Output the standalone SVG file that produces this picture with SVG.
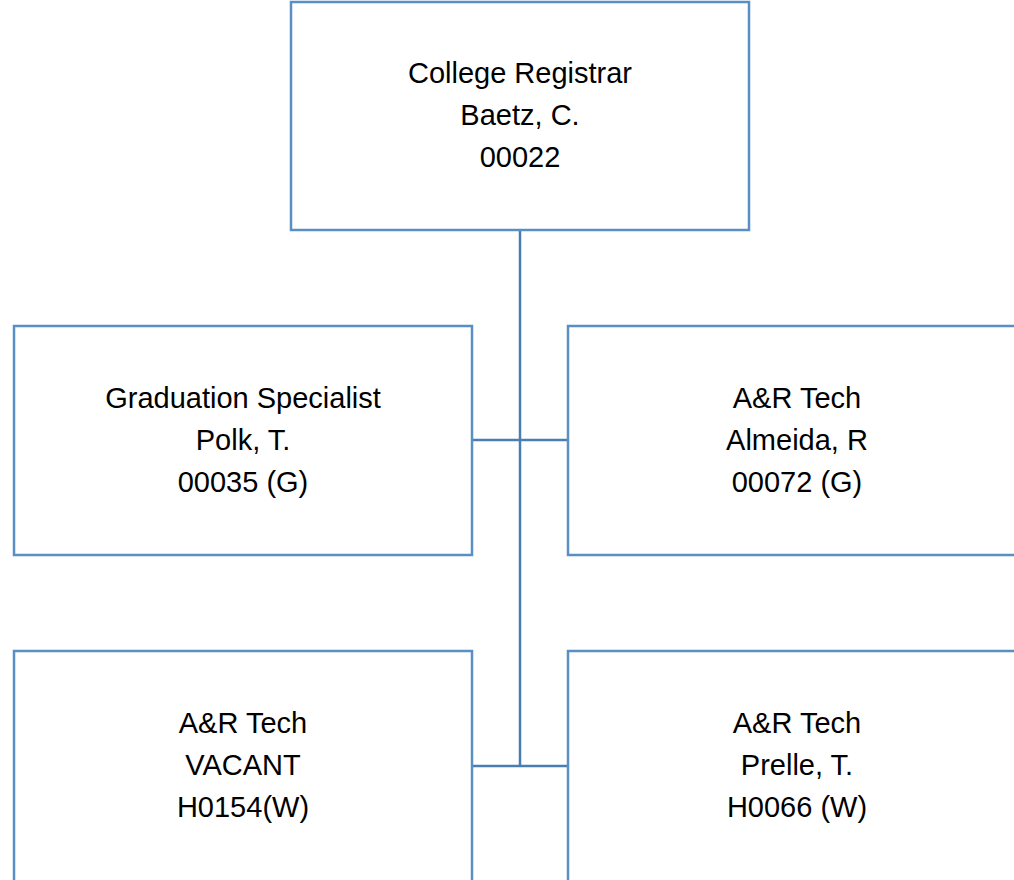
<svg xmlns="http://www.w3.org/2000/svg" width="1014" height="880" viewBox="0 0 1014 880">
<style>
.box{fill:#ffffff;stroke:#5a8fc6;stroke-width:2.5}
.conn{fill:none;stroke:#4a7db2;stroke-width:2.5}
text{font-family:"Liberation Sans",Arial,sans-serif;font-size:29px;fill:#000;text-anchor:middle}
</style>
<rect width="1014" height="880" fill="#ffffff"/>
<g id="connectors">
<line class="conn" x1="520" y1="230" x2="520" y2="766"/>
<line class="conn" x1="472" y1="440" x2="568" y2="440"/>
<line class="conn" x1="472" y1="766" x2="568" y2="766"/>
</g>
<g id="registrar">
<rect class="box" x="291" y="2" width="458" height="228"/>
<text x="520" y="83">College Registrar</text>
<text x="520" y="125">Baetz, C.</text>
<text x="520" y="167">00022</text>
</g>
<g id="graduation">
<rect class="box" x="14" y="326" width="458" height="229"/>
<text x="243" y="408">Graduation Specialist</text>
<text x="243" y="450">Polk, T.</text>
<text x="243" y="492">00035 (G)</text>
</g>
<g id="almeida">
<rect class="box" x="568" y="326" width="470" height="229"/>
<text x="797" y="408">A&amp;R Tech</text>
<text x="797" y="450">Almeida, R</text>
<text x="797" y="492">00072 (G)</text>
</g>
<g id="vacant">
<rect class="box" x="14" y="651" width="458" height="240"/>
<text x="243" y="733">A&amp;R Tech</text>
<text x="243" y="775">VACANT</text>
<text x="243" y="817">H0154(W)</text>
</g>
<g id="prelle">
<rect class="box" x="568" y="651" width="470" height="240"/>
<text x="797" y="733">A&amp;R Tech</text>
<text x="797" y="775">Prelle, T.</text>
<text x="797" y="817">H0066 (W)</text>
</g>
</svg>
